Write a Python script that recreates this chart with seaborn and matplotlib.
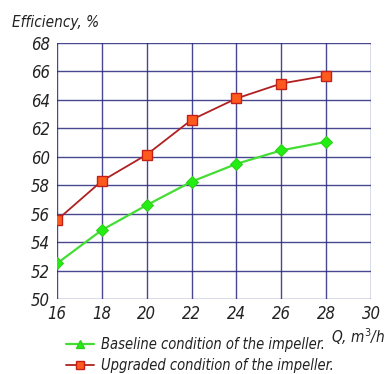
import matplotlib
matplotlib.use("Agg")
import matplotlib.pyplot as plt
import seaborn as sns
import pandas as pd
from matplotlib.lines import Line2D
from matplotlib import font_manager

flow = [16, 18, 20, 22, 24, 26, 28]
baseline = [52.5, 54.85, 56.6, 58.25, 59.5, 60.45, 61.05]
upgraded = [55.55, 58.3, 60.15, 62.6, 64.1, 65.15, 65.7]
x_ticks = [16, 18, 20, 22, 24, 26, 28, 30]
y_ticks = [50, 52, 54, 56, 58, 60, 62, 64, 66, 68]
labels = ["Baseline condition of the impeller.", "Upgraded condition of the impeller."]

sns.set_theme(style="white")
plt.rcParams['font.family'] = ['DejaVu Sans']
has_cond = any(f.name == "DejaVu Sans" and str(f.stretch) == "condensed"
               for f in font_manager.fontManager.ttflist)
stretch = "condensed" if has_cond else "normal"
plt.rcParams['font.stretch'] = stretch
fs_leg = 10.5 if has_cond else 9.4
fs_lab = 11 if has_cond else 10
fs_tick = 12 if has_cond else 11

df = pd.DataFrame({"Q": flow * 2, "eff": baseline + upgraded,
                   "series": [labels[0]] * len(flow) + [labels[1]] * len(flow)})

fig = plt.figure(figsize=(3.86, 3.74), dpi=100)
ax = fig.add_axes([57/386, 75/374, 314/386, 256/374])

grid_c = "#28287e"
for xv in x_ticks:
    ax.axvline(xv, color=grid_c, lw=1.0, alpha=0.85, zorder=0)
for yv in y_ticks:
    ax.axhline(yv, color=grid_c, lw=1.0, alpha=0.85, zorder=0)

sub_b = df[df.series == labels[0]]
sub_u = df[df.series == labels[1]]
sns.lineplot(data=sub_b, x="Q", y="eff", ax=ax, color="#44dd33", lw=1.6,
             marker="D", markersize=6, markerfacecolor="#22ee11",
             markeredgecolor="#33cc22", zorder=3)
sns.lineplot(data=sub_u, x="Q", y="eff", ax=ax, color="#b02020", lw=1.3,
             marker="s", markersize=6.5, markerfacecolor="#ff5a1e",
             markeredgecolor="#c4201a", markeredgewidth=1.0, zorder=3)

ax.set_xlim(16, 30)
ax.set_ylim(50, 68)
ax.set_xticks(x_ticks)
ax.set_yticks(y_ticks)
ax.set_xlabel("")
ax.set_ylabel("")
for s in ax.spines.values():
    s.set_visible(False)
ax.tick_params(axis="both", which="both", length=4, width=1, color=grid_c,
               labelsize=fs_tick, pad=1, direction="out")
ax.tick_params(axis="x", pad=0)
for t in ax.get_xticklabels() + ax.get_yticklabels():
    t.set_fontstyle("italic")
    t.set_color("#222222")

fig.text(12/386, 1 - 22/374, "Efficiency, %", fontsize=fs_lab, style="italic",
         color="#222222", va="center", ha="left")
fig.text(385/386, 1 - 326/374, "Q, m$^3$/h", fontsize=fs_lab, style="italic",
         color="#222222", va="top", ha="right")

handles = [
    Line2D([], [], color="#44dd33", lw=1.6, marker="^", markersize=6,
           markerfacecolor="#22ee11", markeredgecolor="#33cc22"),
    Line2D([], [], color="#b02020", lw=1.3, marker="s", markersize=6,
           markerfacecolor="#ff5a1e", markeredgecolor="#c4201a"),
]
leg = fig.legend(handles, labels, loc="center", bbox_to_anchor=(200/386, 1 - 355/374),
                 frameon=False, handlelength=1.9, handletextpad=0.5,
                 labelspacing=0.45, prop={"style": "italic", "size": fs_leg, "stretch": stretch})
for t in leg.get_texts():
    t.set_color("#222222")

if ax.get_legend():
    ax.get_legend().remove()
fig.savefig("out.png", dpi=100)
